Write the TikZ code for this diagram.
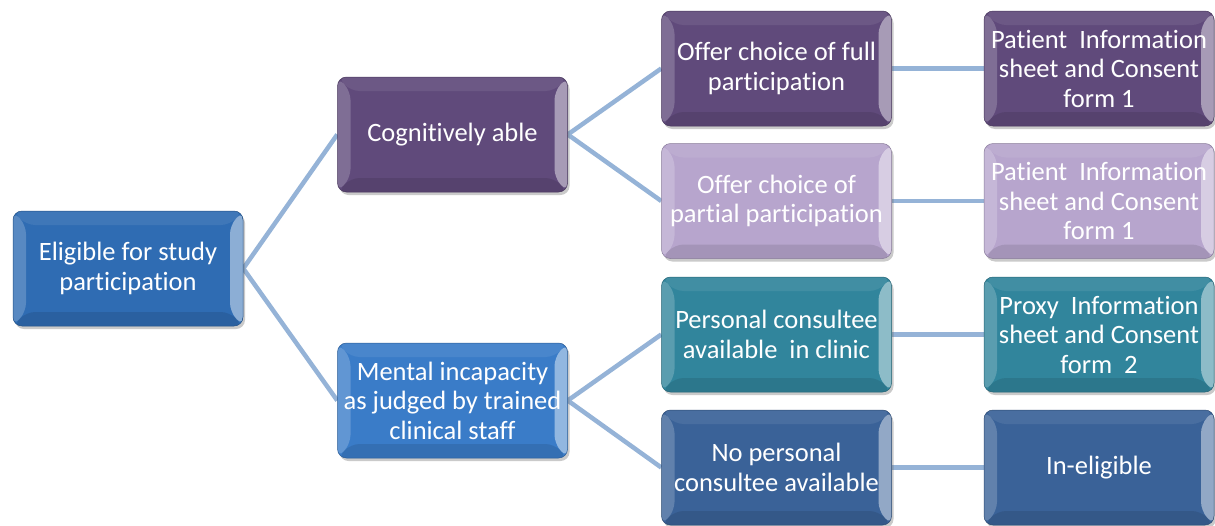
\documentclass[tikz,border=0pt]{standalone}
\usepackage{fontspec}
\setmainfont[Ligatures=NoCommon]{Carlito}
\usetikzlibrary{shadows,backgrounds}
\definecolor{cBlue}{HTML}{2F6CB3}
\definecolor{cBlueL}{HTML}{3A7CC8}
\definecolor{cPurp}{HTML}{604A7B}
\definecolor{cPurpL}{HTML}{B7A5CD}
\definecolor{cTeal}{HTML}{31859C}
\definecolor{cNavy}{HTML}{3A6298}
\definecolor{cLink}{HTML}{95B3D7}
\tikzset{
  box/.style={rectangle, rounded corners=9pt, minimum width=230pt, minimum height=115pt,
    inner sep=0pt, align=center, text=white, font=\fontsize{26.5}{29.5}\selectfont,
    fill=#1, draw=#1!75!black, line width=0.5pt,
    drop shadow={shadow xshift=2pt, shadow yshift=-3pt, opacity=0.35, fill=black!60},
    path picture={
      \fill[white, opacity=0.20]
        (path picture bounding box.south west) -- (path picture bounding box.north west)
        -- ([shift={(13pt,-14pt)}]path picture bounding box.north west)
        -- ([shift={(13pt,14pt)}]path picture bounding box.south west) -- cycle;
      \fill[white, opacity=0.45]
        (path picture bounding box.south east) -- (path picture bounding box.north east)
        -- ([shift={(-13pt,-14pt)}]path picture bounding box.north east)
        -- ([shift={(-13pt,14pt)}]path picture bounding box.south east) -- cycle;
      \fill[white, opacity=0.08]
        (path picture bounding box.north west) -- (path picture bounding box.north east)
        -- ([shift={(-13pt,-14pt)}]path picture bounding box.north east)
        -- ([shift={(13pt,-14pt)}]path picture bounding box.north west) -- cycle;
      \fill[black, opacity=0.10]
        (path picture bounding box.south west) -- (path picture bounding box.south east)
        -- ([shift={(-13pt,14pt)}]path picture bounding box.south east)
        -- ([shift={(13pt,14pt)}]path picture bounding box.south west) -- cycle;
    }},
  link/.style={draw=cLink, line width=4.5pt}
}
\begin{document}
\begin{tikzpicture}[x=1pt,y=-1pt]
\useasboundingbox (0,0) rectangle (1215,525);
\node[box=cBlue]  (elig) at (128,268.5) {Eligible for study\\participation};
\node[box=cPurp]  (cog)  at (452.5,134.5) {Cognitively able};
\node[box=cBlueL] (ment) at (452.5,400.5) {Mental incapacity\\as judged by trained\\clinical staff};
\node[box=cPurp]  (full) at (776.5,68.5) {Offer choice of full\\participation};
\node[box=cPurpL] (part) at (776.5,201) {Offer choice of\\partial participation};
\node[box=cTeal]  (pers) at (776.5,334.5) {Personal consultee\\available\ \ in clinic};
\node[box=cNavy]  (nopc) at (776.5,467.5) {No personal\\consultee available};
\node[box=cPurp]  (pis1) at (1099,68.5) {Patient\ \ Information\\sheet and Consent\\form 1};
\node[box=cPurpL] (pis2) at (1099,201) {Patient\ \ Information\\sheet and Consent\\form 1};
\node[box=cTeal]  (prox) at (1099,334.5) {Proxy\ \ Information\\sheet and Consent\\form\ \ 2};
\node[box=cNavy]  (inel) at (1099,467.5) {In-eligible};
\begin{scope}[on background layer]
\draw[link] (elig.east) -- (cog.west);
\draw[link] (elig.east) -- (ment.west);
\draw[link] (cog.east) -- (full.west);
\draw[link] (cog.east) -- (part.west);
\draw[link] (ment.east) -- (pers.west);
\draw[link] (ment.east) -- (nopc.west);
\draw[link] (full.east) -- (pis1.west);
\draw[link] (part.east) -- (pis2.west);
\draw[link] (pers.east) -- (prox.west);
\draw[link] (nopc.east) -- (inel.west);
\end{scope}
\end{tikzpicture}
\end{document}
